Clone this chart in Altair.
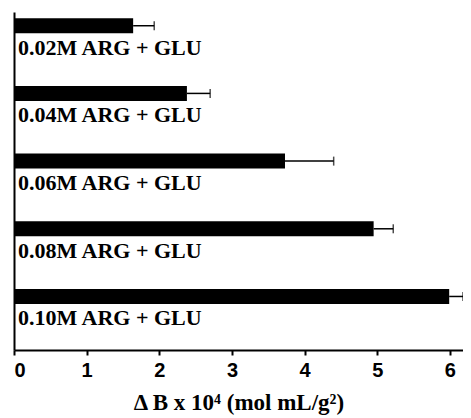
import altair as alt
import pandas as pd

labels = ["0.02M ARG + GLU", "0.04M ARG + GLU", "0.06M ARG + GLU", "0.08M ARG + GLU", "0.10M ARG + GLU"]
values = [1.64, 2.38, 3.73, 4.95, 5.99]
errors = [0.29, 0.32, 0.67, 0.27, 0.19]
order = [0, 1, 2, 3, 4]

df = pd.DataFrame({"label": labels, "value": values, "err": errors, "idx": order})
df["hi"] = df["value"] + df["err"]

xscale = alt.Scale(domain=[0, 6.18], nice=False, zero=True)
yscale = alt.Scale(domain=[-0.129, 4.717], nice=False, zero=False, reverse=True)

xaxis = alt.Axis(
    values=[0, 0.5, 1, 1.5, 2, 2.5, 3, 3.5, 4, 4.5, 5, 5.5, 6],
    labelExpr="datum.value % 1 === 0 ? format(datum.value, 'd') : ''",
    tickSize={"condition": {"test": "datum.value % 1 === 0", "value": 5}, "value": 3},
    tickWidth=2, tickColor="black", domainColor="black", domainWidth=2,
    labelFont="Liberation Sans", labelFontWeight="bold", labelFontSize=20, labelColor="black",
    labelPadding=5, grid=False,
    title="Δ B x 10⁴ (mol mL/g²)", titleFont="Liberation Serif", titleFontWeight="bold",
    titleFontSize=23, titleColor="black", titlePadding=11,
)
yaxis = alt.Axis(labels=False, ticks=False, grid=False, title=None,
                 domainColor="black", domainWidth=2)

base = alt.Chart(df)
bars = base.mark_bar(color="black", size=15, orient="horizontal").encode(
    x=alt.X("value:Q", scale=xscale, axis=xaxis),
    y=alt.Y("idx:Q", scale=yscale, axis=yaxis),
)
err = base.mark_rule(color="black", strokeWidth=1.5).encode(
    x="value:Q", x2="hi:Q", y="idx:Q"
)
caps = base.mark_tick(color="black", orient="vertical", size=9, thickness=1.5).encode(
    x="hi:Q", y="idx:Q"
)
text = base.mark_text(align="left", baseline="middle", dx=4, dy=22,
                      font="Liberation Serif", fontWeight="bold", fontSize=22, color="black").encode(
    x=alt.datum(0), y="idx:Q", text="label:N"
)

chart = alt.layer(bars, err, caps, text).properties(
    width=449, height=338,
    autosize=alt.AutoSizeParams(type="none"),
    padding={"left": 6, "top": 4, "right": 0, "bottom": 68},
).configure_view(stroke=None)

chart.save("out.html", embed_options={"renderer": "svg", "actions": False})
